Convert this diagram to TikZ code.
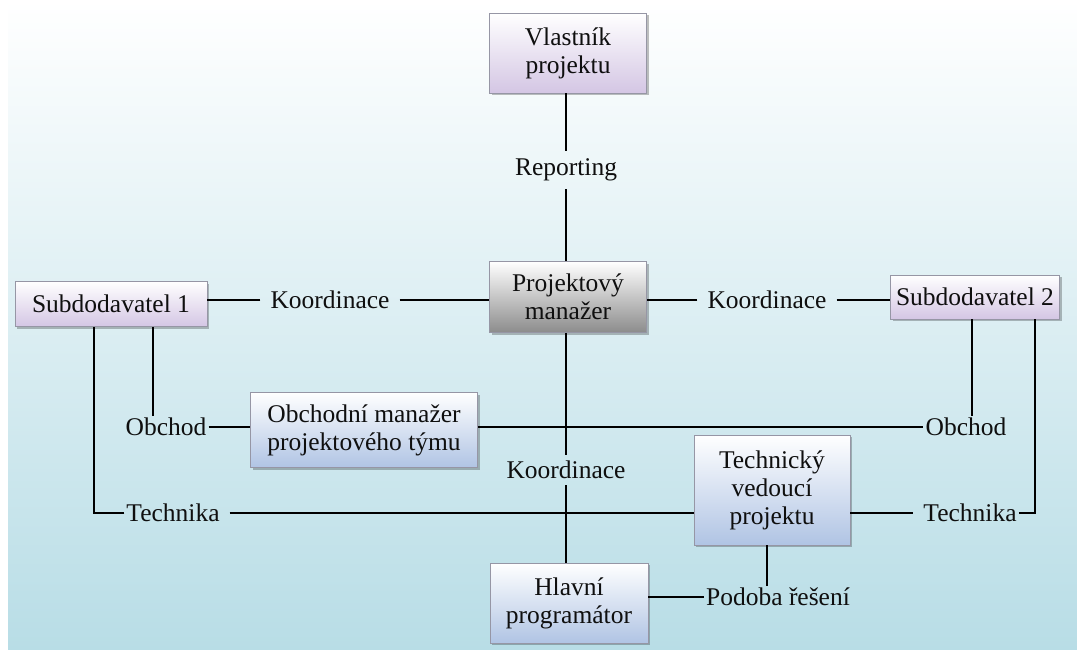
\documentclass[tikz,border=0pt]{standalone}
\usepackage{fontspec}
\setmainfont{Liberation Serif}
\usetikzlibrary{shadows}
\definecolor{bgblue}{RGB}{184,221,230}
\definecolor{lav}{RGB}{212,198,228}
\definecolor{grayb}{RGB}{140,140,140}
\definecolor{blueb}{RGB}{176,196,228}
\definecolor{edgec}{RGB}{150,150,165}
\definecolor{txt}{RGB}{15,15,15}
\begin{document}
\begin{tikzpicture}[x=1pt,y=-1pt,
  font=\fontsize{25.5}{28}\selectfont, text=txt,
  box/.style={draw=edgec, line width=0.6pt, align=center, inner sep=2pt,
     drop shadow={shadow xshift=2pt, shadow yshift=-2pt, fill=black, opacity=0.25}},
  lavbox/.style={box, top color=white, bottom color=lav},
  graybox/.style={box, top color=white, bottom color=grayb},
  bluebox/.style={box, top color=white, bottom color=blueb},
  lbl/.style={inner sep=2pt},
  widelbl/.style={lbl, inner xsep=10pt},
  conn/.style={draw=black, line width=1.2pt}]
\useasboundingbox (0,0) rectangle (1077,650);
\fill[white] (0,0) rectangle (1077,650);
\shade[top color=white, bottom color=bgblue] (8,0) rectangle (1077,650);

\node[lavbox, minimum width=157pt, minimum height=80pt] (vl) at (568,53) {Vlastník\\projektu};
\node[graybox, minimum width=157pt, minimum height=71pt] (pm) at (568,297) {Projektový\\manažer};
\node[lavbox, minimum width=192pt, minimum height=45pt] (s1) at (111,304) {Subdodavatel 1};
\node[lavbox, minimum width=169pt, minimum height=44pt] (s2) at (975,297) {Subdodavatel 2};
\node[bluebox, minimum width=227pt, minimum height=75pt] (om) at (364,430) {Obchodní manažer\\projektového týmu};
\node[bluebox, minimum width=156pt, minimum height=110pt] (tv) at (772,490) {Technický\\vedoucí\\projektu};
\node[bluebox, minimum width=158pt, minimum height=80pt] (hp) at (569,603) {Hlavní\\programátor};

\node[lbl, inner ysep=8pt] (rep) at (566,170) {Reporting};
\node[widelbl] (k1) at (330,300) {Koordinace};
\node[widelbl] (k2) at (767,300) {Koordinace};
\node[lbl, inner ysep=6pt] (k3) at (566,470) {Koordinace};
\node[lbl] (o1) at (166,427) {Obchod};
\node[lbl] (o2) at (966,427) {Obchod};
\node[lbl] (t1) at (173,513) {Technika};
\node[lbl] (t2) at (970,513) {Technika};
\node[lbl] (pr) at (778,597) {Podoba řešení};

\draw[conn] ([xshift=-2pt]vl.south) -- ([xshift=-2pt]vl.south |- rep.north);
\draw[conn] (rep.south) -- (rep.south |- pm.north);
\draw[conn] (k1.west) -- (k1.west -| s1.east);
\draw[conn] (k1.east) -- (k1.east -| pm.west);
\draw[conn] (k2.west) -- (k2.west -| pm.east);
\draw[conn] (k2.east) -- (k2.east -| s2.west);
\draw[conn] ([xshift=-2pt]pm.south) -- ([xshift=-2pt]pm.south |- k3.north);
\draw[conn] (k3.south) -- (k3.south |- hp.north);
\draw[conn] ([xshift=42pt]s1.south) -- ([xshift=42pt]s1.south |- o1.north);
\draw[conn] (o1.east) -- (o1.east -| om.west);
\draw[conn] (om.east |- o2.west) -- (o2.west);
\draw[conn] ([xshift=-3pt]s2.south) -- ([xshift=-3pt]s2.south |- o2.north);
\draw[conn] (t1.west) -| ([xshift=-17pt]s1.south);
\draw[conn] ([xshift=8pt]t1.east) -- (t1.east -| tv.west);
\draw[conn] (tv.east |- t2.west) -- ([xshift=-8pt]t2.west);
\draw[conn] (t2.east) -| ([xshift=60pt]s2.south);
\draw[conn] (pr.west) -- (pr.west -| hp.east);
\draw[conn] ([xshift=-5pt]tv.south) -- ([xshift=-5pt]tv.south |- pr.north);
\end{tikzpicture}
\end{document}
